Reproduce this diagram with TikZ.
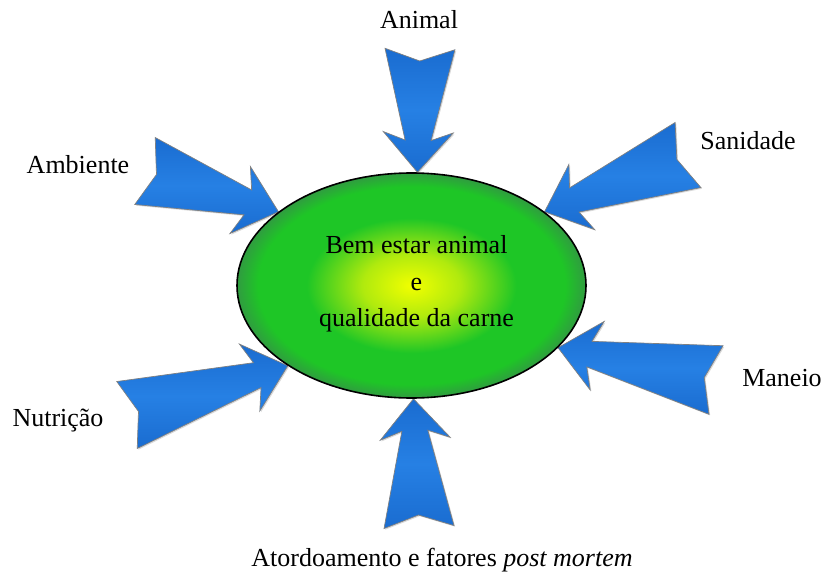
\documentclass[tikz,border=0pt]{standalone}
\usepackage{fontspec}
\setmainfont{Liberation Serif}
\usetikzlibrary{calc,shapes.geometric,shadows,backgrounds}

\definecolor{bemgreen}{RGB}{30,198,38}
\definecolor{bemyellow}{RGB}{242,255,0}
\definecolor{bemmid}{RGB}{176,234,14}
\definecolor{bemedge}{RGB}{48,156,64}
\definecolor{setadark}{RGB}{26,108,208}
\definecolor{setalight}{RGB}{38,128,228}

\pgfdeclareradialshading{bemshade}{\pgfpoint{0bp}{0bp}}{%
	color(0bp)=(bemyellow); color(7bp)=(bemmid);
	color(15bp)=(bemgreen); color(22bp)=(bemgreen);
	color(25bp)=(bemedge); color(50bp)=(bemedge)}

\tikzstyle{fator}=[inner sep=0pt]
\tikzstyle{seta}=[draw=black!50, line width=0.7pt, top color=setadark, bottom color=setadark, middle color=setalight, drop shadow={opacity=0.3, shadow xshift=1.2pt, shadow yshift=-1.2pt}]

\begin{document}
\begin{tikzpicture}[x=1pt, y=-1pt, font=\fontsize{26}{36.5}\selectfont]

\useasboundingbox (0,0) rectangle (824,575);

% CENTRE

\node[ellipse, draw, line width=1.6pt, minimum width=349, minimum height=225, inner sep=0pt, shading=bemshade] (bem) at (411.5,285.5) {};
\node[fator, align=center] (bemtxt) at (416.5,284) {Bem estar animal\\e\\qualidade da carne};

% FACTORS

\node[fator] (animal) at (419,20) {Animal};
\node[fator] (ambiente) at (78,165) {Ambiente};
\node[fator] (sanidade) at (748,141) {Sanidade};
\node[fator] (maneio) at (782,378) {Maneio};
\node[fator] (nutricao) at (58,421) {Nutrição};
\node[fator] (atordoamento) at (442,560) {Atordoamento e fatores \textit{post mortem}};

% ARROWS

\coordinate (tAnimal) at (420,49);
\coordinate (tAmbiente) at (145,171);
\coordinate (tSanidade) at (688,155);
\coordinate (tManeio) at (716,380);
\coordinate (tNutricao) at (127,415);
\coordinate (tAtord) at (419,527);

\begin{pgfonlayer}{background}
\foreach \t/\h in {tAnimal/bem.87, tAmbiente/bem.151.5, tSanidade/bem.29.2, tManeio/bem.337.4, tNutricao/bem.213.2, tAtord/bem.271.8}{
	\path let \p1=($(\h)-(\t)$), \n1={atan2(\y1,\x1)}, \n2={veclen(\x1,\y1)} in
		\pgfextra{\xdef\ang{\n1}\xdef\len{\n2}};
	\draw[seta, shift={(\t)}, rotate=\ang] (0,-35) -- (\len-32,-13) -- (\len-40,-35) -- (\len,0)
		-- (\len-40,35) -- (\len-32,13) -- (0,35) -- (12,0) -- cycle;
}
\end{pgfonlayer}

\end{tikzpicture}
\end{document}
